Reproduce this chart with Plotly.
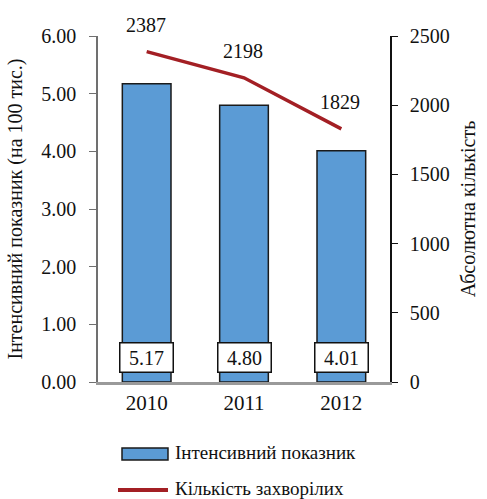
import plotly.graph_objects as go

years = ["2010", "2011", "2012"]
intensive = [5.17, 4.80, 4.01]
cases = [2387, 2198, 1829]
left_ticks = [0, 1, 2, 3, 4, 5, 6]
right_ticks = [0, 500, 1000, 1500, 2000, 2500]
bar_name = "Інтенсивний показник"
line_name = "Кількість захворілих"

FONT = "Liberation Serif"
BAR_COLOR = "#5B9BD5"
LINE_COLOR = "#A31F24"
fig = go.Figure()

fig.add_trace(go.Bar(
    x=years, y=intensive, name=bar_name,
    marker=dict(color=BAR_COLOR, line=dict(color="#1a1a1a", width=1.5)),
    width=0.5, yaxis="y",
))
fig.add_trace(go.Scatter(
    x=years, y=cases, name=line_name, mode="lines",
    line=dict(color=LINE_COLOR, width=3.5), yaxis="y2",
))

annotations = []
for i, v in enumerate(intensive):
    annotations.append(dict(
        x=i, y=0.425, xref="x", yref="y", text=f"{v:.2f}", showarrow=False,
        font=dict(family=FONT, size=20, color="#111"),
        bgcolor="white", bordercolor="#111", borderwidth=1.5, borderpad=3,
        width=46, height=22,
    ))
for i, c in enumerate(cases):
    annotations.append(dict(
        x=i, y=c, xref="x", yref="y2", text=str(c), showarrow=False,
        yshift=27, xshift=-1, font=dict(family=FONT, size=20, color="#111"),
    ))

# manual legend (layout decoration)
annotations += [
    dict(x=0.2568, y=-0.2052, xref="paper", yref="paper", xanchor="left",
         yanchor="middle", text=bar_name, showarrow=False,
         font=dict(family=FONT, size=19, color="#111")),
    dict(x=0.2568, y=-0.3064, xref="paper", yref="paper", xanchor="left",
         yanchor="middle", text=line_name, showarrow=False,
         font=dict(family=FONT, size=19, color="#111")),
]
shapes = [
    dict(type="rect", xref="paper", yref="paper", x0=0.0822, x1=0.2397,
         y0=-0.2254, y1=-0.1908, fillcolor=BAR_COLOR,
         line=dict(color="#1a1a1a", width=1.5)),
    dict(type="line", xref="paper", yref="paper", x0=0.0685, x1=0.2397,
         y0=-0.3121, y1=-0.3121, line=dict(color=LINE_COLOR, width=4)),
]

fig.update_layout(
    width=487, height=499,
    margin=dict(l=98, r=97, t=36, b=117),
    paper_bgcolor="white", plot_bgcolor="white",
    font=dict(family=FONT, size=20, color="#111"),
    showlegend=False,
    xaxis=dict(
        type="category",
        showline=True, linecolor="#9a9a9a", linewidth=2.5,
        ticks="", tickfont=dict(family=FONT, size=21), showgrid=False,
    ),
    yaxis=dict(
        range=[0, 6], tickvals=left_ticks, tickformat=".2f",
        showline=True, linecolor="#707070", linewidth=1.5,
        ticks="outside", ticklen=7, tickcolor="#707070",
        ticklabelstandoff=9,
        showgrid=False, zeroline=False, tickfont=dict(family=FONT, size=20),
        title=dict(text="Інтенсивний показник (на 100 тис.)",
                   font=dict(family=FONT, size=20), standoff=13),
    ),
    yaxis2=dict(
        range=[0, 2500], tickvals=right_ticks, overlaying="y", side="right",
        showline=True, linecolor="#111", linewidth=1.5,
        ticks="outside", ticklen=6, tickcolor="#111",
        ticklabelstandoff=8,
        showgrid=False, zeroline=False, tickfont=dict(family=FONT, size=20),
        title=dict(text="Абсолютна кількість",
                   font=dict(family=FONT, size=20), standoff=12),
    ),
    annotations=annotations,
    shapes=shapes,
)

fig.write_html("out.html")
